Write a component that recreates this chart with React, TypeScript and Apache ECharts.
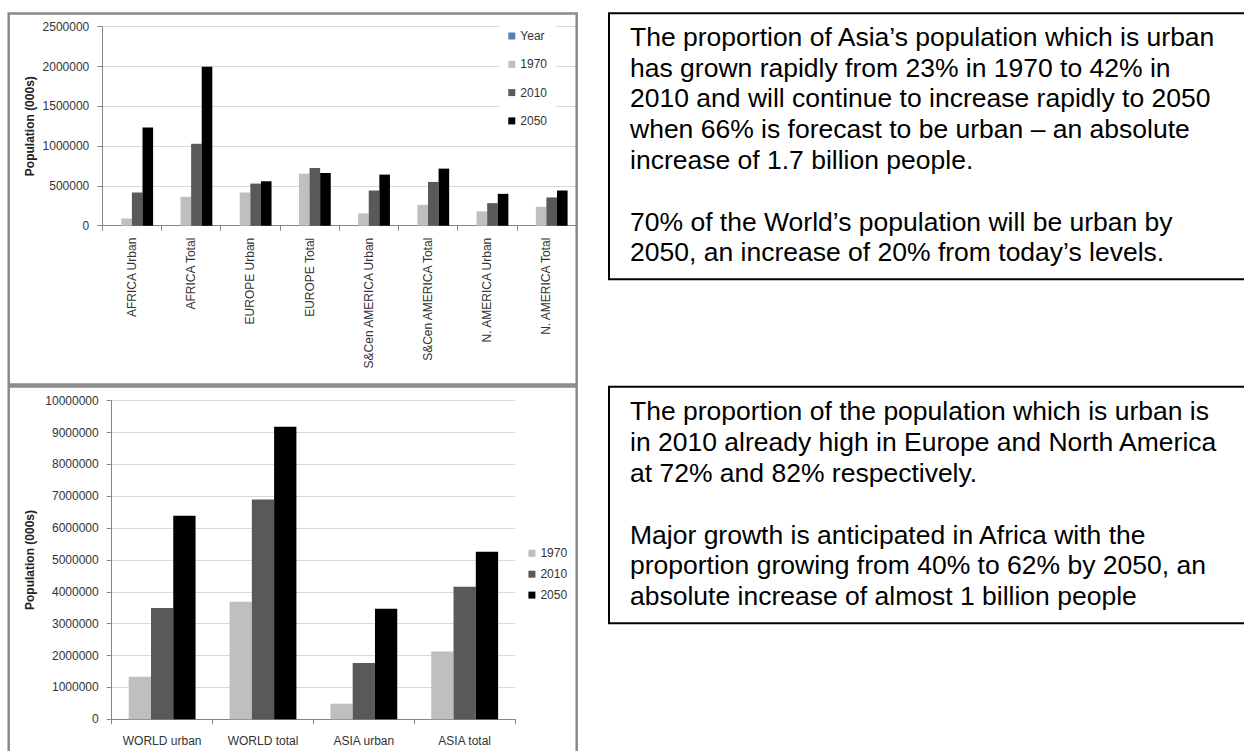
import { useEffect, useRef } from "react";
import * as echarts from "echarts";

// Regional populations (000s), upper chart
const regionCategories = [
  "AFRICA Urban",
  "AFRICA Total",
  "EUROPE Urban",
  "EUROPE Total",
  "S&Cen AMERICA Urban",
  "S&Cen AMERICA Total",
  "N. AMERICA Urban",
  "N. AMERICA Total",
];
const regionYear: (number | null)[] = [];
const region1970 = [92000, 363000, 417000, 654000, 154000, 262000, 180000, 237000];
const region2010 = [417000, 1029000, 529000, 725000, 442000, 550000, 283000, 355000];
const region2050 = [1233000, 1998000, 558000, 662000, 642000, 717000, 400000, 442000];
const regionAxis = { min: 0, max: 2500000, interval: 500000 };

// World and Asia populations (000s), lower chart
const worldCategories = ["WORLD urban", "WORLD total", "ASIA urban", "ASIA total"];
const world1970 = [1339000, 3690000, 490000, 2130000];
const world2010 = [3494000, 6900000, 1770000, 4160000];
const world2050 = [6390000, 9180000, 3470000, 5260000];
const worldAxis = { min: 0, max: 10000000, interval: 1000000 };

const yearNames = ["Year", "1970", "2010", "2050"];
const yearColors: Record<string, string> = {
  Year: "#4f81bd",
  "1970": "#bfbfbf",
  "2010": "#595959",
  "2050": "#000000",
};

// Commentary beside the charts, one array per paragraph
const asiaNote = [
  [
    "The proportion of Asia\u2019s population which is urban",
    "has grown rapidly from 23% in 1970 to 42% in",
    "2010 and will continue to increase rapidly to 2050",
    "when 66% is forecast to be urban \u2013 an absolute",
    "increase of 1.7 billion people.",
  ],
  [
    "70% of the World\u2019s population will be urban by",
    "2050, an increase of 20% from today\u2019s levels.",
  ],
];
const regionNote = [
  [
    "The proportion of the population which is urban is",
    "in 2010 already high in Europe and North America",
    "at 72% and 82% respectively.",
  ],
  [
    "Major growth is anticipated in Africa with the",
    "proportion growing from 40% to 62% by 2050, an",
    "absolute increase of almost 1 billion people",
  ],
];

const FONT = '"Liberation Sans", Arial, sans-serif';
const LABEL = "#333333";
const NOTE_SIZE = 26.5;
const NOTE_STEP = 30.8;
const NOTE_X = 630;
const BOX_X = 609;

function noteLines(paragraphs: string[][], firstBaseline: number, x: number) {
  const items: any[] = [];
  let row = 0;
  paragraphs.forEach((lines, p) => {
    if (p > 0) row += 1;
    lines.forEach((line) => {
      const baseline = firstBaseline + row * NOTE_STEP;
      items.push({
        type: "text",
        x,
        y: baseline - NOTE_SIZE * 0.3465,
        z: 20,
        style: {
          text: line,
          fontFamily: FONT,
          fontSize: NOTE_SIZE,
          fill: "#000",
          align: "left",
          verticalAlign: "middle",
        },
      });
      row += 1;
    });
  });
  return items;
}

function valueAxis(gridIndex: number, range: { min: number; max: number; interval: number }, nameGap: number) {
  return {
    type: "value",
    gridIndex,
    min: range.min,
    max: range.max,
    interval: range.interval,
    name: "Population (000s)",
    nameLocation: "middle",
    nameRotate: 90,
    nameGap,
    nameTextStyle: { fontFamily: FONT, fontSize: 12, fontWeight: "bold", color: "#222" },
    axisLine: { show: true, lineStyle: { color: "#868686", width: 1 } },
    axisTick: { show: true, length: 5, lineStyle: { color: "#868686" } },
    axisLabel: {
      margin: 13,
      fontFamily: FONT,
      fontSize: 12,
      color: LABEL,
      formatter: (v: number) => String(v),
    },
    splitLine: { show: true, lineStyle: { color: "#d9d9d9", width: 1.2 } },
  };
}

function categoryAxis(gridIndex: number, data: string[], rotate: number, margin: number) {
  return {
    type: "category",
    gridIndex,
    data,
    axisLine: { show: true, lineStyle: { color: "#868686", width: 1 } },
    axisTick: { show: true, length: 5, lineStyle: { color: "#868686" } },
    axisLabel: {
      interval: 0,
      rotate,
      margin,
      fontFamily: FONT,
      fontSize: 12,
      color: LABEL,
    },
  };
}

function barSeries(name: string, data: (number | null)[], axisIndex: number, categoryGap: string) {
  return {
    type: "bar",
    name,
    data,
    xAxisIndex: axisIndex,
    yAxisIndex: axisIndex,
    barGap: "0%",
    barCategoryGap: categoryGap,
    itemStyle: { color: yearColors[name] },
  };
}

export default function App() {
  const ref = useRef<HTMLDivElement>(null);

  useEffect(() => {
    if (!ref.current) return;
    const chart = echarts.init(ref.current, undefined, { renderer: "svg" });

    const frameStyle = { fill: "none", stroke: "#8a8a8a", lineWidth: 2.5 };
    const boxStyle = { fill: "none", stroke: "#000", lineWidth: 2 };

    chart.setOption({
      animation: false,
      backgroundColor: "#ffffff",
      grid: [
        { left: 102.3, top: 26.7, width: 473.7, height: 199 },
        { left: 111.7, top: 400.7, width: 403.4, height: 318.6 },
      ],
      xAxis: [
        categoryAxis(0, regionCategories, 90, 12),
        categoryAxis(1, worldCategories, 0, 16),
      ],
      yAxis: [valueAxis(0, regionAxis, 66), valueAxis(1, worldAxis, 76)],
      legend: [
        {
          data: yearNames,
          orient: "vertical",
          left: 499.3,
          top: 23,
          icon: "rect",
          itemWidth: 7,
          itemHeight: 7,
          itemGap: 14.3,
          padding: [6, 9, 6, 9],
          backgroundColor: "#ffffff",
          selectedMode: false,
          textStyle: { fontFamily: FONT, fontSize: 12, lineHeight: 14, color: LABEL },
        },
        {
          data: yearNames.slice(1),
          orient: "vertical",
          left: 528.4,
          top: 546.3,
          icon: "rect",
          itemWidth: 7,
          itemHeight: 7,
          itemGap: 6.9,
          padding: 0,
          selectedMode: false,
          textStyle: { fontFamily: FONT, fontSize: 12, lineHeight: 14, color: LABEL },
        },
      ],
      series: [
        barSeries("Year", regionYear, 0, "28.4%"),
        barSeries("1970", region1970, 0, "28.4%"),
        barSeries("2010", region2010, 0, "28.4%"),
        barSeries("2050", region2050, 0, "28.4%"),
        barSeries("1970", world1970, 1, "33.7%"),
        barSeries("2010", world2010, 1, "33.7%"),
        barSeries("2050", world2050, 1, "33.7%"),
      ],
      graphic: [
        // chart frames
        { type: "rect", z: 100, shape: { x: 8.7, y: 13.5, width: 568, height: 371 }, style: frameStyle },
        { type: "rect", z: 100, shape: { x: 8.7, y: 386.5, width: 568, height: 380 }, style: frameStyle },
        // commentary boxes
        { type: "rect", z: 10, shape: { x: BOX_X, y: 13.3, width: 700, height: 266 }, style: boxStyle },
        { type: "rect", z: 10, shape: { x: BOX_X, y: 386.7, width: 700, height: 236.6 }, style: boxStyle },
        ...noteLines(asiaNote, 46, NOTE_X),
        ...noteLines(regionNote, 420.5, NOTE_X),
      ],
    });

    return () => chart.dispose();
  }, []);

  return (
    <div
      ref={ref}
      style={{ position: "fixed", left: 0, top: 0, width: 1244, height: 751, background: "#fff" }}
    />
  );
}
